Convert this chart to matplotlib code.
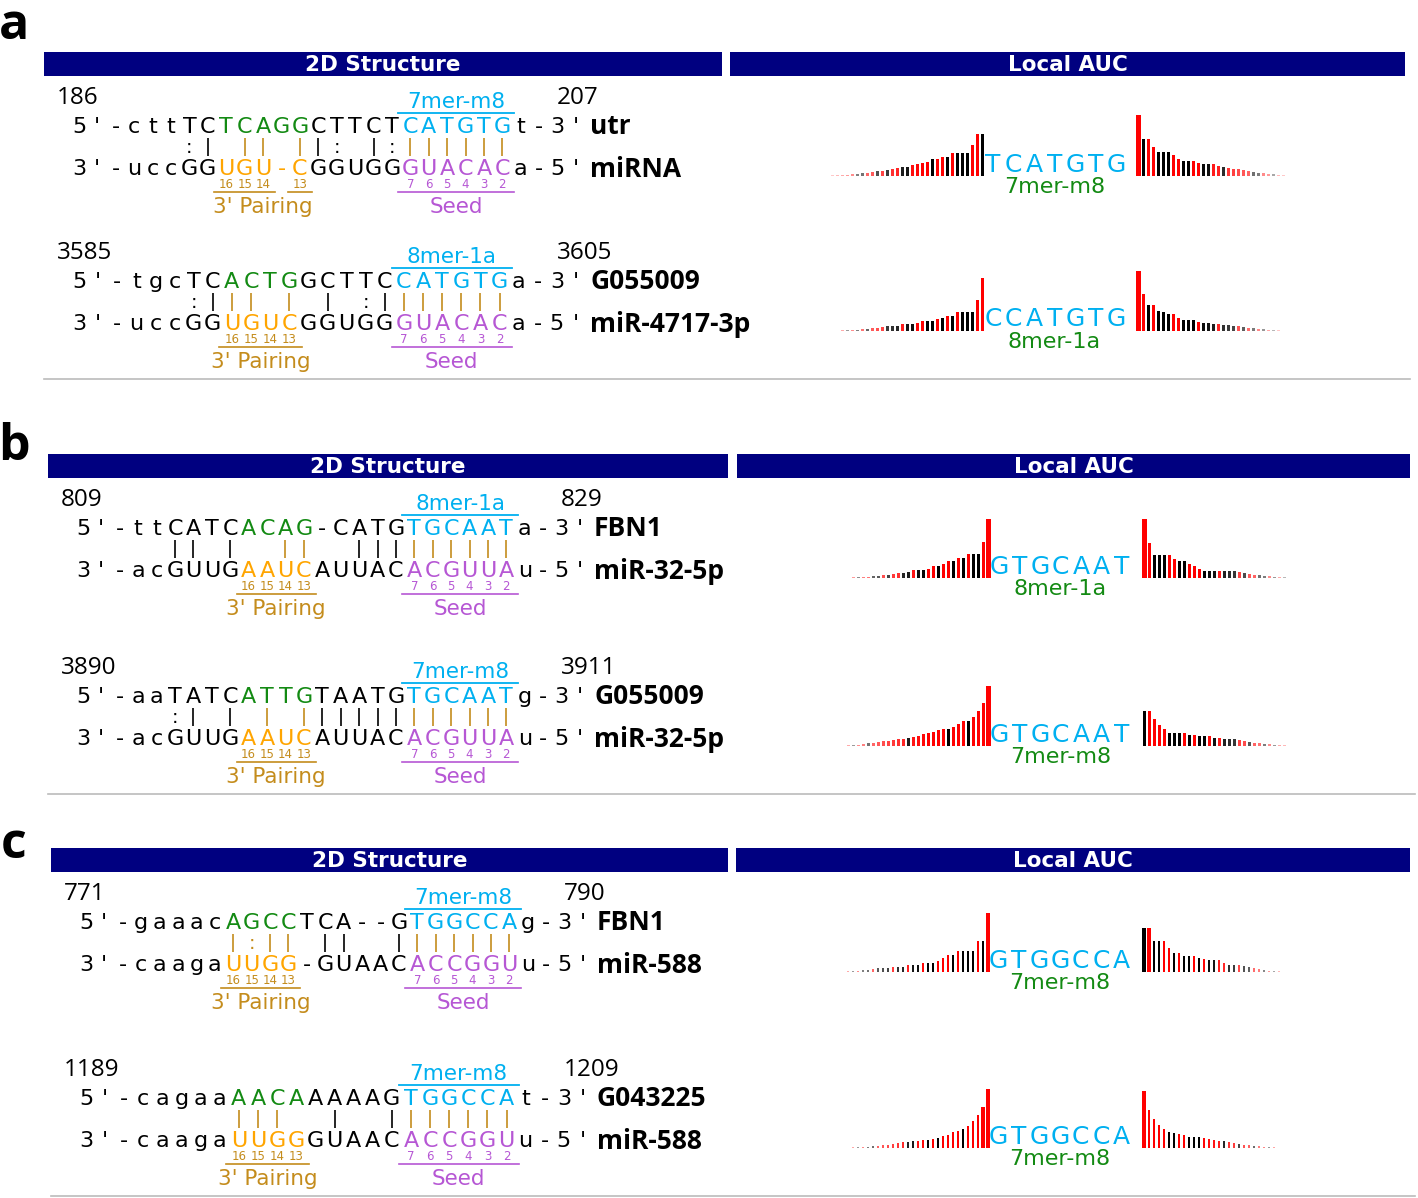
import numpy as np
import matplotlib
matplotlib.use("Agg")
import matplotlib.pyplot as plt
from matplotlib.patches import Rectangle
from matplotlib.colors import to_rgba

W, H = 1418, 1198

# ---------------- data ----------------
panel_names = ["a", "b", "c"]
header_titles = ["2D Structure", "Local AUC"]

start_pos = [186, 3585, 809, 3890, 771, 1189]
end_pos = [207, 3605, 829, 3911, 790, 1209]
target_names = ["utr", "G055009", "FBN1", "G055009", "FBN1", "G043225"]
mirna_names = ["miRNA", "miR-4717-3p", "miR-32-5p", "miR-32-5p", "miR-588", "miR-588"]
site_types = ["7mer-m8", "8mer-1a", "8mer-1a", "7mer-m8", "7mer-m8", "7mer-m8"]

target_seqs = ["cttTCTCAGGCTTCTCATGTGt",
               "tgcTCACTGGCTTCCATGTGa",
               "ttCATCACAG-CATGTGCAATa",
               "aaTATCATTGTAATGTGCAATg",
               "gaaacAGCCTCA--GTGGCCAg",
               "cagaaAACAAAAAGTGGCCAt"]
mirna_seqs = ["uccGGUGU-CGGUGGGUACACa",
              "uccGGUGUCGGUGGGUACACa",
              "acGUUGAAUCAUUACACGUUAu",
              "acGUUGAAUCAUUACACGUUAu",
              "caagaUUGG-GUAACACCGGUu",
              "caagaUUGGGUAACACCGGUu"]
bond_strs = ["   :| || ||: |:|||||| ",
             "   :||| | | :||||||| ",
             "  || |  ||  ||||||||| ",
             "  :| | | |||||||||||| ",
             "     |:|| ||  ||||||| ",
             "     |||  |  ||||||| "]
seed_cols = [15, 14, 15, 15, 15, 14]
pair_cols = [[5, 6, 7, 9], [5, 6, 7, 8], [6, 7, 8, 9], [6, 7, 8, 9], [5, 6, 7, 8], [5, 6, 7, 8]]
pair_nums = ["16", "15", "14", "13"]
seed_nums = ["7", "6", "5", "4", "3", "2"]

auc_sites = ["TCATGTG", "CCATGTG", "GTGCAAT", "GTGCAAT", "GTGGCCA", "GTGGCCA"]
# left flank: outer -> inner ; right flank: inner -> outer
auc_left_h = [
    [2, 2, 3, 4, 5, 6, 8, 10, 12, 14, 16, 18, 22, 25, 28, 28, 32, 35, 38, 43, 50, 52, 58, 58, 70, 70, 70, 70, 92, 127, 127],
    [1, 1, 2, 2, 3, 4, 5, 6, 8, 10, 12, 14, 15, 15, 20, 20, 22, 25, 30, 30, 30, 35, 38, 45, 45, 58, 58, 58, 58, 92, 160],
    [1, 1, 1, 2, 2, 3, 4, 5, 6, 10, 10, 13, 16, 16, 18, 25, 25, 25, 28, 35, 37, 42, 50, 50, 60, 60, 73, 73, 73, 108, 178],
    [1, 1, 2, 3, 4, 6, 8, 10, 12, 14, 16, 18, 22, 22, 25, 28, 30, 35, 38, 42, 48, 52, 52, 58, 65, 75, 75, 87, 105, 130, 180],
    [1, 1, 2, 3, 4, 5, 6, 10, 12, 12, 12, 15, 15, 15, 20, 20, 20, 27, 27, 27, 33, 42, 52, 52, 63, 63, 63, 63, 93, 93, 178],
    [1, 1, 2, 2, 3, 4, 5, 6, 8, 10, 12, 14, 18, 18, 20, 22, 25, 25, 28, 30, 35, 40, 48, 52, 58, 65, 80, 98, 123, 178],
]
auc_left_c = ["rrrrrkkrrkrkrrkkrrrrkrrkrkkkrrk",
              "kkrkrkrkrrrkkkrkkrrkkrkrkrkkkrr",
              "rrkrkrrkkrkrrkkrkkrrkrrkrkrkkrr",
              "rkrkrrkrrrrrrrkrrrrrrrkrrrkrrrr",
              "rkrkrkkrkkkrkkrkkrkkrrrkrkkkrkr",
              "rkrkrkkrrrrrrkkrrkrkrrrrkrrrrr"]
auc_right_h = [
    [182, 110, 110, 88, 72, 72, 72, 62, 52, 45, 45, 45, 38, 35, 35, 35, 30, 28, 25, 22, 22, 18, 14, 12, 10, 8, 6, 5, 4, 3],
    [180, 110, 78, 78, 60, 58, 50, 50, 40, 33, 33, 33, 28, 25, 25, 22, 20, 17, 17, 15, 15, 12, 10, 8, 6, 5, 4, 3, 2],
    [177, 105, 70, 70, 70, 70, 57, 50, 50, 42, 35, 28, 22, 22, 22, 22, 20, 20, 20, 18, 15, 13, 10, 8, 6, 5, 4, 3, 2, 1],
    [105, 105, 80, 62, 50, 38, 38, 38, 38, 33, 33, 30, 30, 30, 25, 25, 22, 22, 20, 18, 15, 12, 10, 8, 6, 5, 4, 3, 2, 1],
    [133, 133, 92, 92, 92, 72, 58, 58, 48, 48, 48, 42, 40, 35, 35, 35, 28, 22, 22, 22, 18, 14, 12, 8, 6, 4, 3, 2, 1],
    [170, 115, 88, 70, 58, 47, 45, 42, 38, 33, 33, 33, 30, 28, 25, 22, 20, 18, 15, 12, 10, 8, 6, 5, 4, 3, 2, 1, 1],
]
auc_right_c = ["rkrrkkkrrkkrrkkrrkrrrrrkkrrkrr",
               "rrkrkkkrrkkkrkkkrkkkrkrkrkrkr",
               "rrkkkrrkkrrrkkkrkkkrkrrkkrkrkr",
               "krrrrkkkrkrkkrkrkkkrrkrrkrkrrr",
               "krkkrrkrkkrkrkkrrkkrkkrrkrkrr",
               "rrrrrkkrrkkkrrrrkrrkrrkrrkrrr"]

# ---------------- layout / style ----------------
panel_header_y = [52, 454, 848]
panel_label_base = [39, 460, 858]
panel_left_box = [(44, 722), (48, 728), (51, 728)]
panel_right_box = [(730, 1405), (737, 1410), (736, 1410)]
panel_row_gap = [155, 168, 176]

NAVY = "#000080"
BLUE = "#00b0f0"
GREEN = "#138a13"
ORANGE = "#ffa500"
GOLD = "#c48c1c"
PURPLE = "#b657d4"
SEQ_FONT = "DejaVu Sans"
LAB_FONT = "Open Sans"
BAR_COL = {"r": "#ff0000", "k": "#000000"}

fig = plt.figure(figsize=(W / 100, H / 100), dpi=100)
ax = fig.add_axes([0, 0, 1, 1])
ax.set_xlim(0, W)
ax.set_ylim(H, 0)
ax.axis("off")


def runs(cols):
    out, cur = [], [cols[0]]
    for c in cols[1:]:
        if c == cur[-1] + 1:
            cur.append(c)
        else:
            out.append(cur)
            cur = [c]
    out.append(cur)
    return out


def draw_row(r, x0, y0):
    tgt, mir, bonds = target_seqs[r], mirna_seqs[r], bond_strs[r]
    n = len(tgt)
    dx = 497.0 / (n + 5)

    def xs(k):
        return x0 + (k + 3) * dx

    pc = pair_cols[r]
    pmin, pmax = min(pc), max(pc)
    s0 = seed_cols[r]
    seed = list(range(s0, s0 + 6))

    top = ["5", "'", "-"] + list(tgt) + ["-", "3", "'"]
    bot = ["3", "'", "-"] + list(mir) + ["-", "5", "'"]
    for i, (ct, cb) in enumerate(zip(top, bot)):
        k = i - 3
        col_t, col_b = "black", "black"
        if pmin <= k <= pmax:
            col_t, col_b = GREEN, ORANGE
        if k in seed:
            col_t, col_b = BLUE, PURPLE
        ax.text(x0 + i * dx, y0 + 37, ct, color=col_t, fontsize=16, family=SEQ_FONT,
                ha="center", va="baseline")
        ax.text(x0 + i * dx, y0 + 79, cb, color=col_b, fontsize=16, family=SEQ_FONT,
                ha="center", va="baseline")

    for k, b in enumerate(bonds):
        col = GOLD if (pmin <= k <= pmax or k in seed) else "black"
        if b == "|":
            ax.plot([xs(k), xs(k)], [y0 + 42, y0 + 60], color=col, lw=1.2, solid_capstyle="butt")
        elif b == ":":
            ax.text(xs(k), y0 + 57, ":", color=col, fontsize=14, family=SEQ_FONT,
                    ha="center", va="baseline")

    # positions and names
    ax.text(x0 - 22, y0 + 8, str(start_pos[r]), fontsize=17.5, family=LAB_FONT, ha="left", va="baseline")
    ax.text(x0 + 478, y0 + 8, str(end_pos[r]), fontsize=17.5, family=LAB_FONT, ha="left", va="baseline")
    ax.text(x0 + 511, y0 + 38, target_names[r], fontsize=19, fontweight="bold", family=LAB_FONT,
            ha="left", va="baseline")
    ax.text(x0 + 511, y0 + 81, mirna_names[r], fontsize=19, fontweight="bold", family=LAB_FONT,
            ha="left", va="baseline")

    # site type above the seed
    sx_a, sx_b = xs(seed[0]), xs(seed[-1])
    ax.text((sx_a + sx_b) / 2, y0 + 12, site_types[r], color=BLUE, fontsize=15.5, family=SEQ_FONT,
            ha="center", va="baseline")
    ax.plot([sx_a - 0.65 * dx, sx_b + 0.65 * dx], [y0 + 17, y0 + 17], color=BLUE, lw=1.3)

    # numbering and underlines
    for lab, k in zip(pair_nums, pc):
        ax.text(xs(k), y0 + 92, lab, color=GOLD, fontsize=8.5, family=SEQ_FONT, ha="center", va="baseline")
    for lab, k in zip(seed_nums, seed):
        ax.text(xs(k), y0 + 92, lab, color=PURPLE, fontsize=8.5, family=SEQ_FONT, ha="center", va="baseline")
    for rn in runs(pc):
        ax.plot([xs(rn[0]) - 0.65 * dx, xs(rn[-1]) + 0.65 * dx], [y0 + 96, y0 + 96], color=GOLD, lw=1.2)
    ax.plot([sx_a - 0.65 * dx, sx_b + 0.65 * dx], [y0 + 96, y0 + 96], color=PURPLE, lw=1.2)

    ax.text((xs(pmin) + xs(pmax)) / 2, y0 + 117, "3' Pairing", color=GOLD, fontsize=15.5,
            family=SEQ_FONT, ha="center", va="baseline")
    ax.text((sx_a + sx_b) / 2, y0 + 117, "Seed", color=PURPLE, fontsize=15.5,
            family=SEQ_FONT, ha="center", va="baseline")


def bar_style(h, cols, d, n):
    rgba = []
    for hh, c, dd in zip(h, cols, d):
        a = float(np.clip(1.15 - (dd / n) ** 2, 0.08, 1.0))
        rgba.append(to_rgba(BAR_COL[c], a))
    w = 2.0 + 2.8 * (np.asarray(h, float) / 200.0) ** 2
    return rgba, w


def draw_auc(r, cx, y0):
    base = y0 + 80
    axb = fig.add_axes([(cx - 250) / W, (H - base) / H, 500 / W, 70 / H])
    axb.set_xlim(-250, 250)
    axb.set_ylim(0, 210)
    axb.axis("off")

    lh, lc = auc_left_h[r], auc_left_c[r]
    nl = len(lh)
    xl = [-(72 + (nl - 1 - i) * 5) for i in range(nl)]
    dl = [nl - 1 - i for i in range(nl)]
    rgba, w = bar_style(lh, lc, dl, nl)
    axb.bar(xl, lh, width=w, color=rgba, align="center", clip_on=False)

    rh, rc = auc_right_h[r], auc_right_c[r]
    nr = len(rh)
    xr = [84 + j * 5 for j in range(nr)]
    rgba, w = bar_style(rh, rc, list(range(nr)), nr)
    axb.bar(xr, rh, width=w, color=rgba, align="center", clip_on=False)

    site = auc_sites[r]
    for m, ch in enumerate(site):
        ax.text(cx + (m - 3) * 20.5, base - 4.5, ch, color=BLUE, fontsize=18, family=SEQ_FONT,
                ha="center", va="baseline")
    ax.text(cx, base + 17, site_types[r], color=GREEN, fontsize=16, family=SEQ_FONT,
            ha="center", va="baseline")


for p in range(3):
    hy = panel_header_y[p]
    (l0, l1), (q0, q1) = panel_left_box[p], panel_right_box[p]
    ax.text(14, panel_label_base[p], panel_names[p], fontsize=36, fontweight="bold",
            family=LAB_FONT, ha="center", va="baseline")
    for (b0, b1), title in zip([(l0, l1), (q0, q1)], header_titles):
        ax.add_patch(Rectangle((b0, hy), b1 - b0, 24, color=NAVY, lw=0))
        ax.text((b0 + b1) / 2, hy + 19, title, color="white", fontsize=15.5, fontweight="bold",
                family=SEQ_FONT, ha="center", va="baseline")
    for j in range(2):
        r = 2 * p + j
        y0 = hy + 44 + j * panel_row_gap[p]
        draw_row(r, l0 + 35, y0)
        draw_auc(r, (q0 + q1) / 2 - 13, y0)
    sep_y = hy + 44 + panel_row_gap[p] + 128
    ax.plot([l0, q1 + 5], [sep_y, sep_y], color="#bbbbbb", lw=1.2)

fig.savefig("out.png", dpi=100)
